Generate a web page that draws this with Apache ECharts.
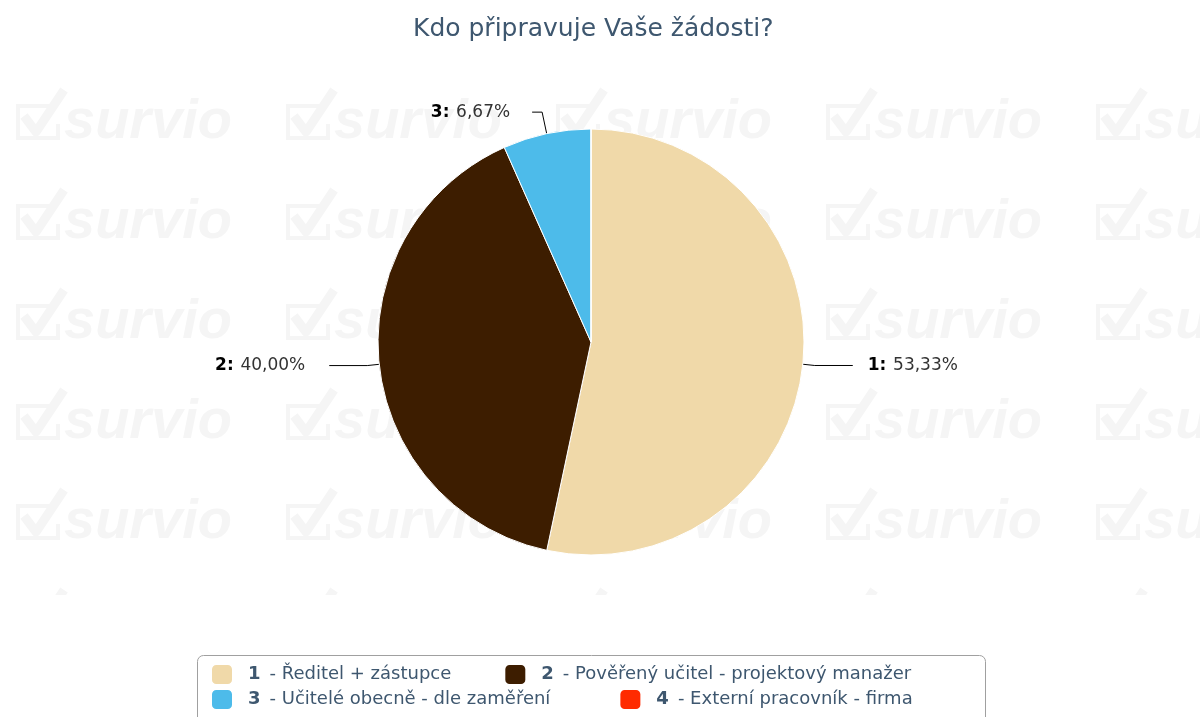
<!DOCTYPE html>
<html>
<head>
<meta charset="utf-8">
<title>Kdo připravuje Vaše žádosti?</title>
<script src="https://cdn.jsdelivr.net/npm/echarts@6/dist/echarts.min.js"></script>
<style>
  html, body { margin: 0; padding: 0; background: #fff; }
  #chart { width: 1200px; height: 717px; }
</style>
</head>
<body>
<div id="chart"></div>
<script>
// data
const codes = ["1", "2", "3", "4"];
const answers = [
  "Ředitel + zástupce",
  "Pověřený učitel - projektový manažer",
  "Učitelé obecně - dle zaměření",
  "Externí pracovník - firma"
];
const shares = [53.33, 40.0, 6.67, 0];
const colors = ["#f0d9a9", "#3d1d00", "#4dbbea", "#ff2b00"];

// survio watermark tile (background decoration)
function makeTile() {
  const c = document.createElement("canvas");
  c.width = 270;
  c.height = 100;
  const ctx = c.getContext("2d");
  const draw = (oy) => {
    ctx.strokeStyle = "#f5f5f5";
    ctx.fillStyle = "#f5f5f5";
    // box
    ctx.lineWidth = 4;
    ctx.beginPath();
    ctx.moveTo(52, oy + 18);
    ctx.lineTo(18, oy + 18);
    ctx.lineTo(18, oy + 50);
    ctx.lineTo(58, oy + 50);
    ctx.lineTo(58, oy + 36);
    ctx.stroke();
    // check mark
    ctx.lineWidth = 9;
    ctx.lineJoin = "round";
    ctx.beginPath();
    ctx.moveTo(24, oy + 28);
    ctx.lineTo(36, oy + 44);
    ctx.lineTo(64, oy + 2);
    ctx.stroke();
    ctx.font = "italic bold 56px 'Liberation Sans'";
    ctx.textBaseline = "alphabetic";
    ctx.fillText("survio", 64, oy + 50);
  };
  draw(88 - 100);
  draw(88);
  return c;
}

const chart = echarts.init(document.getElementById("chart"));

const pieData = shares.map((v, i) => {
  const item = { name: codes[i], value: v, itemStyle: { color: colors[i] } };
  if (v === 0) {
    item.label = { show: false };
    item.labelLine = { show: false };
  }
  if (i === 1) {
    item.label = { distanceToLabelLine: 24 };
  }
  if (i === 2) {
    item.labelLine = { length: 22, length2: 10 };
    item.label = { distanceToLabelLine: 22 };
  }
  return item;
});

const legendText = (name) => {
  const i = codes.indexOf(name);
  return "{b|" + name + "}{t|- " + answers[i] + "}";
};

const legendRich = {
  b: { fontWeight: "bold", fontSize: 18, color: "#3E576F", padding: [0, 0, 0, 10], fontFamily: "DejaVu Sans" },
  t: { fontSize: 18, color: "#3E576F", padding: [0, 0, 0, 9], fontFamily: "DejaVu Sans" }
};

chart.setOption({
  animation: false,
  color: colors,
  title: {
    text: "Kdo připravuje Vaše žádosti?",
    left: 408,
    top: 12,
    textStyle: {
      fontFamily: "DejaVu Sans",
      fontSize: 25,
      fontWeight: "normal",
      color: "#3E576F"
    }
  },
  graphic: [
    {
      type: "rect",
      z: -10,
      silent: true,
      shape: { x: 0, y: 85, width: 1200, height: 510 },
      style: { fill: { image: makeTile(), repeat: "repeat" } }
    },
    {
      type: "rect",
      silent: true,
      shape: { x: 197.5, y: 655.5, width: 788, height: 90, r: 6 },
      style: { fill: "#fff", stroke: "#a0a0a0", lineWidth: 1 }
    }
  ],
  legend: [
    {
      data: codes.slice(0, 2),
      left: 210,
      top: 663,
      padding: 0,
      itemWidth: 22,
      itemHeight: 21,
      itemGap: 52,
      icon: "roundRect",
      selectedMode: false,
      formatter: legendText,
      textStyle: { rich: legendRich }
    },
    {
      data: codes.slice(2, 4),
      left: 210,
      top: 688,
      padding: 0,
      itemWidth: 22,
      itemHeight: 21,
      itemGap: 68,
      icon: "roundRect",
      selectedMode: false,
      formatter: legendText,
      textStyle: { rich: legendRich }
    }
  ],
  series: [
    {
      type: "pie",
      center: [591, 342],
      radius: 213,
      startAngle: 90,
      clockwise: true,
      avoidLabelOverlap: false,
      silent: true,
      itemStyle: { borderColor: "#fff", borderWidth: 1 },
      label: {
        show: true,
        position: "outside",
        distanceToLabelLine: 15,
        formatter: (p) =>
          "{k|" + p.name + ":}  {v|" + p.value.toFixed(2).replace(".", ",") + "%}",
        rich: {
          k: { fontWeight: "bold", fontSize: 17, color: "#000", fontFamily: "DejaVu Sans" },
          v: { fontSize: 17, color: "#333", fontFamily: "DejaVu Sans" }
        }
      },
      labelLine: {
        show: true,
        length: 12,
        length2: 38,
        smooth: false,
        lineStyle: { color: "#000", width: 1 }
      },
      data: pieData
    }
  ]
});

window.addEventListener("resize", () => {
  chart.resize();
});
</script>
</body>
</html>
